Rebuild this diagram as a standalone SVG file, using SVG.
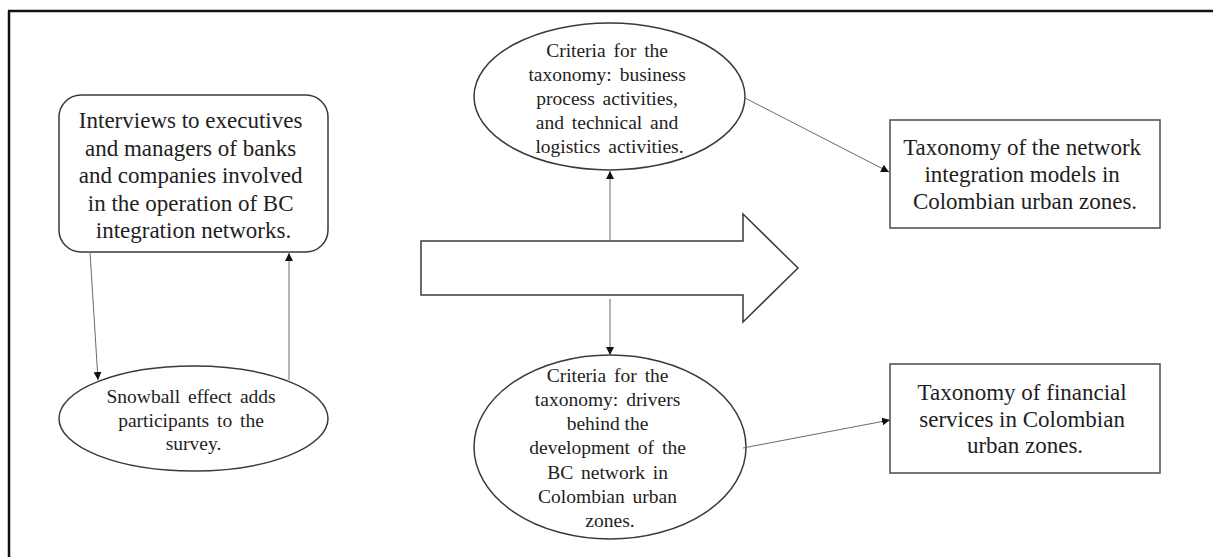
<svg xmlns="http://www.w3.org/2000/svg" width="1213" height="557" viewBox="0 0 1213 557">
  <style>
    .shape { fill: #ffffff; stroke: #3a3a3a; stroke-width: 1.5; }
    .box { fill: #ffffff; stroke: #555555; stroke-width: 1.6; }
    .big { font-family: "Liberation Serif", "Times New Roman", serif; font-size: 23px; fill: #1e1e1e; text-anchor: middle; }
    .small { font-family: "Liberation Serif", "Times New Roman", serif; font-size: 19.5px; fill: #1e1e1e; text-anchor: middle; }
    .link { fill: none; stroke: #6a6a6a; stroke-width: 1; marker-end: url(#head); }
  </style>
  <defs>
    <marker id="head" viewBox="0 0 10 10" refX="10" refY="5" markerWidth="8" markerHeight="8" markerUnits="userSpaceOnUse" orient="auto">
      <path d="M0,0 L10,5 L0,10 Z" fill="#111111"/>
    </marker>
  </defs>

  <rect width="1213" height="557" fill="#ffffff"/>

  <!-- outer frame: top and left edges -->
  <g id="frame" stroke="#111111" stroke-width="2.5" fill="none">
    <line x1="8" y1="11" x2="1213" y2="11"/>
    <line x1="9" y1="11" x2="9" y2="557"/>
  </g>

  <g id="interviews">
    <rect class="shape" x="59" y="95" width="269" height="157" rx="22" ry="22"/>
    <text class="big">
      <tspan x="193.5" y="128">Interviews to executives</tspan>
      <tspan x="193.5" y="155.5">and managers of banks</tspan>
      <tspan x="193.5" y="183">and companies involved</tspan>
      <tspan x="193.5" y="210.5">in the operation of BC</tspan>
      <tspan x="193.5" y="238">integration networks.</tspan>
    </text>
  </g>

  <g id="snowball">
    <ellipse class="shape" cx="193.5" cy="418.5" rx="134.5" ry="52.5"/>
    <text class="small">
      <tspan x="193.5" y="403" word-spacing="3">Snowball effect adds</tspan>
      <tspan x="193.5" y="427" word-spacing="3">participants to the</tspan>
      <tspan x="193.5" y="450">survey.</tspan>
    </text>
  </g>

  <g id="process-arrow">
    <polygon class="shape" points="421,241 743,241 743,214 798,268 743,322 743,295 421,295"/>
  </g>

  <g id="criteria-activities">
    <ellipse class="shape" cx="609.5" cy="96.5" rx="135.5" ry="73.5"/>
    <text class="small">
      <tspan x="609.5" y="57" word-spacing="3">Criteria for the</tspan>
      <tspan x="609.5" y="81" word-spacing="3">taxonomy: business</tspan>
      <tspan x="609.5" y="105" word-spacing="3">process activities,</tspan>
      <tspan x="609.5" y="129" word-spacing="3">and technical and</tspan>
      <tspan x="609.5" y="153" word-spacing="3">logistics activities.</tspan>
    </text>
  </g>

  <g id="criteria-drivers">
    <ellipse class="shape" cx="610" cy="447" rx="136" ry="92"/>
    <text class="small">
      <tspan x="610" y="382" word-spacing="3">Criteria for the</tspan>
      <tspan x="610" y="406" word-spacing="3">taxonomy: drivers</tspan>
      <tspan x="610" y="430">behind the</tspan>
      <tspan x="610" y="454" word-spacing="3">development of the</tspan>
      <tspan x="610" y="479" word-spacing="3">BC network in</tspan>
      <tspan x="610" y="503" word-spacing="3">Colombian urban</tspan>
      <tspan x="610" y="527">zones.</tspan>
    </text>
  </g>

  <g id="taxonomy-models">
    <rect class="box" x="890" y="120" width="270" height="108"/>
    <text class="big">
      <tspan x="1025" y="155">Taxonomy of the network</tspan>
      <tspan x="1025" y="182">integration models in</tspan>
      <tspan x="1025" y="209">Colombian urban zones.</tspan>
    </text>
  </g>

  <g id="taxonomy-services">
    <rect class="box" x="890" y="364" width="270" height="109"/>
    <text class="big">
      <tspan x="1025" y="400">Taxonomy of financial</tspan>
      <tspan x="1025" y="427">services in Colombian</tspan>
      <tspan x="1025" y="453">urban zones.</tspan>
    </text>
  </g>

  <g id="connectors">
    <line class="link" x1="90" y1="252" x2="98" y2="380"/>
    <line class="link" x1="289" y1="380" x2="289" y2="253"/>
    <line class="link" x1="610" y1="241" x2="610" y2="171"/>
    <line class="link" x1="610" y1="299" x2="610" y2="355"/>
    <line class="link" x1="745" y1="98" x2="889" y2="172"/>
    <line class="link" x1="743" y1="448" x2="890" y2="420"/>
  </g>
</svg>
